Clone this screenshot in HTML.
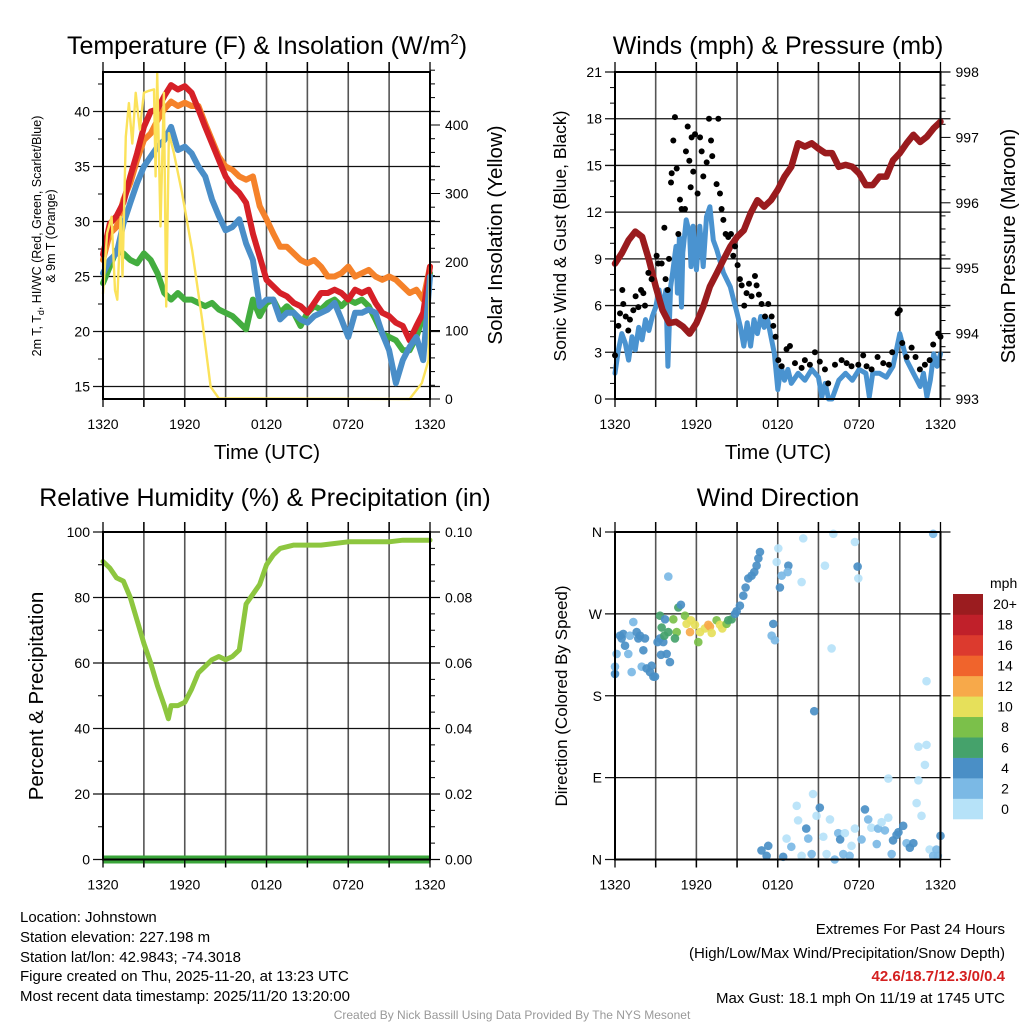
<!DOCTYPE html>
<html><head><meta charset="utf-8"><style>
body{margin:0;background:#fff;font-family:"Liberation Sans",Arial,sans-serif}
svg{display:block}
text{font-family:"Liberation Sans",Arial,sans-serif}
</style></head><body>
<svg id="s" width="1024" height="1024" viewBox="0 0 1024 1024" xmlns="http://www.w3.org/2000/svg">
<rect width="1024" height="1024" fill="#fff"/>
<text x="267" y="54" font-size="25" text-anchor="middle">Temperature (F) &amp; Insolation (W/m<tspan dy="-10" font-size="15">2</tspan><tspan dy="10">)</tspan></text>
<text x="778" y="54" font-size="25" text-anchor="middle">Winds (mph) &amp; Pressure (mb)</text>
<text x="265" y="506" font-size="25" text-anchor="middle">Relative Humidity (%) &amp; Precipitation (in)</text>
<text x="778" y="506" font-size="25" text-anchor="middle">Wind Direction</text>
<text transform="translate(41,236) rotate(-90)" font-size="12.5" text-anchor="middle">2m T, T<tspan dy="3" font-size="9">d</tspan><tspan dy="-3">, HI/WC (Red, Green, Scarlet/Blue)</tspan></text>
<text transform="translate(55,236) rotate(-90)" font-size="12.5" text-anchor="middle">&amp; 9m T (Orange)</text>
<text transform="translate(502,235) rotate(-90)" font-size="20.5" text-anchor="middle">Solar Insolation (Yellow)</text>
<text x="267" y="459" font-size="20.5" text-anchor="middle">Time (UTC)</text>
<text x="778" y="459" font-size="20.5" text-anchor="middle">Time (UTC)</text>
<text transform="translate(566,236) rotate(-90)" font-size="17.5" text-anchor="middle">Sonic Wind &amp; Gust (Blue, Black)</text>
<text transform="translate(1015,246) rotate(-90)" font-size="20" text-anchor="middle">Station Pressure (Maroon)</text>
<text transform="translate(43,696) rotate(-90)" font-size="20.5" text-anchor="middle">Percent &amp; Precipitation</text>
<text transform="translate(567,696) rotate(-90)" font-size="17" text-anchor="middle">Direction (Colored By Speed)</text>
<g font-size="15">
<text x="20" y="922">Location: Johnstown</text>
<text x="20" y="942">Station elevation: 227.198 m</text>
<text x="20" y="962">Station lat/lon: 42.9843; -74.3018</text>
<text x="20" y="981">Figure created on Thu, 2025-11-20, at 13:23 UTC</text>
<text x="20" y="1001">Most recent data timestamp: 2025/11/20 13:20:00</text>
</g>
<g font-size="15" text-anchor="end">
<text x="1005" y="934">Extremes For Past 24 Hours</text>
<text x="1005" y="958">(High/Low/Max Wind/Precipitation/Snow Depth)</text>
<text x="1005" y="981" fill="#d42020" font-weight="bold">42.6/18.7/12.3/0/0.4</text>
<text x="1005" y="1003">Max Gust: 18.1 mph On 11/19 at 1745 UTC</text>
</g>
<text x="512" y="1019" font-size="12" fill="#999" text-anchor="middle">Created By Nick Bassill Using Data Provided By The NYS Mesonet</text>
</svg>
<script>
const hrs=[0,0.5,1,1.5,2,2.5,3,3.5,4,4.5,5,5.5,6,6.5,7,7.5,8,8.5,9,9.5,10,10.5,11,11.5,12,12.5,13,13.5,14,14.5,15,15.5,16,16.5,17,17.5,18,18.5,19,19.5,20,20.5,21,21.5,22,22.5,23,23.5,24];
const tempRed=[27,29.8,30.5,31.7,34.1,36.2,38.6,40,40.2,41.4,42.4,42,42.3,41.7,40.2,38.6,37.1,35.6,34.1,33.2,32.6,31.7,28.9,26.8,24.7,24.1,23.5,23.2,22.6,22.3,21.7,22.6,23.5,23.5,23.8,23.5,22.9,23.8,23.5,23.8,22.6,21.7,21.4,20.8,20.5,19.2,20.5,21.7,25.9];
const tempOrange=[26.5,28.9,29.5,32,33.5,35.6,37.4,38,39.2,40.2,40.9,40.5,40.8,40.5,40.5,38.9,37.4,35.9,35,34.7,34.1,33.8,34.1,31.4,30.2,28.9,27.7,27.7,27.1,26.5,26.2,26.5,25.9,25,25,25.3,25.9,25,25.3,25.6,25,24.7,25,24.7,24.1,23.5,23.8,22.9,25.9];
const tempBlue=[25.3,26.5,27.1,29.8,31.7,33.5,35,35.9,36.8,37.4,38.6,36.5,36.8,36.2,35,34.1,32,30.5,29.2,29.5,30.2,28,26.5,22.3,22.9,22.9,21.1,21.7,21.7,21.1,20.8,21.4,21.7,22,22.6,21.1,19.5,21.7,21.7,22,21.7,19.8,18.3,15.3,17.4,18.6,19.5,17.4,25];
const dewGreen=[24.4,25.9,27.4,27.1,26.5,26.2,27.1,26.5,25.3,23.5,22.9,23.5,22.9,22.9,22.6,22.3,22.6,22,21.7,21.4,20.8,20.2,22.9,21.4,22.6,22.9,21.7,22.3,21.7,20.5,21.7,22.3,22,22.6,22.9,22.3,22.9,22.6,22.9,22.3,21.1,19.8,19.5,19.2,18.3,18.3,19.5,21.4,25.3];
const solarHrs=[0,0.3,0.63,0.88,1.05,1.3,1.43,1.67,1.9,2.15,2.4,2.7,3,3.37,3.74,3.86,3.98,4.22,4.47,4.64,4.84,5.2,5.8,6.55,7.28,7.9,8.5,22.5,23.4,23.9,24];
const solarVals=[154,242,266,159,145,266,179,383,432,373,447,393,447,450,452,325,476,252,447,135,388,359,301,217,115,18,1,0,23,57,193];
const windHrs=[0,0.25,0.5,0.75,1,1.25,1.5,1.75,2,2.25,2.5,2.75,3,3.25,3.5,3.75,3.9,4.1,4.25,4.5,4.6,4.75,4.9,5,5.25,5.5,5.6,5.75,6,6.25,6.5,6.75,7,7.25,7.5,8,8.5,9,9.25,9.5,9.75,10,10.25,10.5,10.75,11,11.25,11.5,11.75,12,12.25,12.5,12.75,13,13.5,14,14.5,15,15.25,15.5,15.75,16,16.5,17,17.5,18,18.5,18.75,19,19.5,20,20.5,21,21.5,22,22.5,22.75,23,23.25,23.5,23.75,24];
const windVals=[1.65,3.15,4.2,3.6,2.5,4,3.15,4.6,3.8,5.1,4.4,5.3,5.9,7,5.7,7,2.1,7.2,8.1,9.8,6.8,10.4,5.9,9.4,11.5,10.6,8.5,11.1,8.3,11.1,8.5,11.7,12.35,10.2,9.6,8.1,7.2,5.5,4.6,3.4,4.9,3.4,5.1,4.2,5.3,4.6,5.1,4,2.9,0.6,2.1,1.2,1.9,1,1.65,1.2,1.9,1.4,0.15,1,0,0,1.2,1.65,1.2,1.9,1.65,0.15,1.65,1.65,1.4,2.1,4.2,2.5,1.65,0.8,1.65,0.15,1.2,2.9,2.1,2.9];
const gustHrs=[0,0.25,0.37,0.54,0.61,0.79,0.98,1.1,1.35,1.52,1.72,1.92,2.09,2.21,2.46,2.7,3.07,3.19,3.44,3.64,3.73,3.88,3.98,4.13,4.18,4.3,4.42,4.55,4.67,4.79,4.91,5.16,5.23,5.36,5.48,5.58,5.65,5.77,5.9,6.09,6.27,6.39,6.51,6.76,6.93,7.08,7.17,7.49,7.62,7.74,7.86,7.99,8.16,8.35,8.55,8.72,8.85,9.04,9.21,9.34,9.53,9.7,9.88,10.07,10.32,10.44,10.61,10.81,11.06,11.3,11.55,11.67,11.84,12.04,12.29,12.65,12.9,13.27,13.76,14,14.37,14.74,15.1,15.48,15.72,16.22,16.71,17.08,17.44,17.94,18.3,18.55,18.92,19.36,19.78,20.2,20.44,20.84,21,21.18,21.5,21.87,22.16,22.48,22.85,23.2,23.46,23.83,24];
const gustVals=[2.8,4.7,5.5,7,6.1,5.3,4.4,5.1,5.7,6.6,5.9,7,6.8,6,8.1,7.7,9.2,8.7,8.7,11,7.7,7,9,13.9,14.5,16.6,18.1,14.8,10.6,12.8,12.2,12.2,15.9,17.5,15.3,13.6,16.8,14.6,17,13.2,16.8,15.9,14.3,15.2,18,16.6,15.6,13.8,18,13.2,12.2,11.5,10.6,10.4,10.6,9.2,9.8,8.6,7.7,7.3,6,6.8,7.4,6.6,7.9,7.3,6.7,6.1,5.3,6.1,5.3,4.7,4,2.5,2.1,3.2,3.4,2.3,2,2.5,2.2,3,2.4,1.9,1,2.2,2.5,2.3,2.1,2.2,2.8,2.1,1.9,2.7,2.3,2.2,3,5.5,5.7,3.6,2.7,3.3,2.7,1.9,2.2,2.5,3.5,4.2,4];
const pressVals=[995.07,995.23,995.43,995.56,995.48,995.13,994.72,994.36,994.16,994.18,994.11,994,994.16,994.41,994.72,994.92,995.13,995.33,995.48,995.58,995.84,996.04,995.94,996.04,996.2,996.4,996.55,996.91,996.86,996.91,996.83,996.76,996.76,996.55,996.58,996.55,996.45,996.27,996.27,996.4,996.4,996.65,996.76,996.91,997.04,996.93,997.01,997.14,997.24];
const rhHrs=[0,0.5,1,1.5,2,2.5,3,3.5,4,4.5,4.8,5,5.5,6,6.5,7,7.5,8,8.5,9,9.5,10,10.5,11,11.5,12,12.5,13,14,15,16,17,18,19,20,21,22,23,24];
const rhVals=[91,89,86,85,80,73,66,60,53,47,43,47,47,48,52,57,59,61,62,61,62,64,78,81,84,90,93,95,96,96,96,96.5,97,97,97,97,97.5,97.5,97.5];
const precipVals=[0,0];
const dirHrs=[0,0,0.12,0.37,0.49,0.61,0.74,0.98,1.1,1.35,1.6,1.72,1.84,2.09,2.21,1.23,1.97,2.33,2.58,2.7,2.83,2.95,3.14,3.32,3.56,3.39,3.81,4.05,3.93,3.32,3.44,3.64,3.69,3.93,4.3,4.55,4.67,4.86,4.42,5.16,5.28,5.53,5.6,5.9,6.14,6.27,6.63,6.88,7,7.13,7.49,7.74,7.91,8.23,8.35,8.6,8.85,8.97,9.21,9.46,9.63,9.83,10.07,10.27,10.44,10.57,10.69,11.67,11.55,11.79,11.92,12.04,12.29,12.16,12.78,12.73,13.76,13.88,15.48,16.1,17.69,17.89,17.94,15.97,14.69,22.97,23.46,10.8,11.18,11.3,12.4,12.65,13,13.4,13.5,13.76,14.1,14.25,14.5,14.6,14.86,15.1,15.36,15.6,15.85,16.2,16.46,16.6,16.83,16.95,17.3,17.44,17.69,18.18,18.43,18.67,18.9,19.3,19.4,19.66,19.9,20.15,20.4,20.5,20.76,20.9,21.25,21.5,21.74,22,22.24,22.37,22.6,22.37,22.97,22.85,23.2,23.46,23.7,24,23.8,20.15];
const dirVals=[204,212,226,246,243,248,235,226,246,261,250,243,246,230,243,206,212,210,206,213,201,201,239,243,239,225,226,217,311,268,255,246,264,250,264,250,277,280,243,268,259,250,263,258,239,250,254,258,256,249,263,258,254,259,263,264,270,273,279,290,299,309,312,316,323,331,338,259,246,241,327,342,312,299,323,316,305,353,323,358,349,322,309,232,163,196,358,10,4,15,3,23,14,59,43,4,34,23,6,72,48,57,25,6,44,0,29,22,6,29,4,15,34,22,55,44,35,17,34,41,32,46,6,21,27,30,37,18,13,18,62,87,48,124,126,104,11,4,11,26,4,89];
const dirSpeeds=[4,2,2,4,4,4,4,2,2,2,4,4,4,4,4,2,2,4,4,4,4,4,4,4,4,4,4,4,2,6,6,6,4,6,8,8,6,4,6,8,10,12,10,10,8,10,10,12,12,10,8,10,10,8,6,6,4,4,4,4,4,4,4,4,4,4,4,4,2,2,0,0,2,4,4,2,0,0,0,0,0,4,0,0,4,0,2,4,4,4,4,0,2,0,0,0,4,2,2,0,0,4,0,0,0,2,2,4,2,0,2,0,0,2,4,2,0,2,2,0,2,0,2,4,4,4,4,2,4,4,0,0,0,0,0,0,0,2,2,4,2,0];
const cbLabels=["0","2","4","6","8","10","12","14","16","18","20+"];
const cbColors=["#b6e2f8","#7bb9e5","#4a8fc6","#45a26b","#7bc04a","#e6e05a","#f7a94a","#f0642c","#dc3a2e","#c0202a","#9b1c1f"];

const NS="http://www.w3.org/2000/svg";
const svg=document.getElementById('s');
function mk(tag,attrs,parent){const e=document.createElementNS(NS,tag);for(const k in attrs)e.setAttribute(k,attrs[k]);(parent||svg).appendChild(e);return e;}
function lin(d0,d1,r0,r1){return v=>r0+(v-d0)*(r1-r0)/(d1-d0);}
const P1={x0:103,x1:430,y0:72,y1:399},P2={x0:615,x1:940.5,y0:72,y1:399},P3={x0:103,x1:430,y0:532,y1:859.5},P4={x0:615,x1:940.5,y0:532,y1:859.5};
function frame(P,name){
  const g=mk('g',{});
  
  
  for(let h=3;h<24;h+=3){const x=P.x0+(P.x1-P.x0)*h/24;
    const l=mk('line',{x1:x,x2:x,y1:P.y0-10,y2:P.y1+8,stroke:'#555','stroke-width':1.6},g);
    
    }
  const labs=["1320","1920","0120","0720","1320"];
  labs.forEach((t,i)=>{const x=P.x0+(P.x1-P.x0)*i/4;
    const tx=mk('text',{x:x,y:P.y1+30,'font-size':14,'text-anchor':'middle'});tx.textContent=t;
    
    });
  return g;
}
function box(P,name){const r=mk('rect',{x:P.x0,y:P.y0,width:P.x1-P.x0,height:P.y1-P.y0,fill:'none',stroke:'#000','stroke-width':2});
  
  
  for(let h=0;h<=24;h+=3){const x=P.x0+(P.x1-P.x0)*h/24;mk('line',{x1:x,x2:x,y1:P.y0-10,y2:P.y0,stroke:'#000','stroke-width':1.3});mk('line',{x1:x,x2:x,y1:P.y1,y2:P.y1+8,stroke:'#000','stroke-width':1.3});}
}
function hgrid(P,ys,labels,side,name){ys.forEach((y,i)=>{
  const l=mk('line',{x1:P.x0-10,x2:P.x1+10,y1:y,y2:y,stroke:'#111','stroke-width':1.3});
  
  
  if(labels){const t=mk('text',{x:side==='l'?P.x0-13:P.x1+13,y:y+5,'font-size':14,'text-anchor':side==='l'?'end':'start'});t.textContent=labels[i];
  
  }});}
function ticks(P,ys,side,len){ys.forEach(y=>{const x=side==='l'?P.x0:P.x1;mk('line',{x1:x,x2:side==='l'?x-len:x+len,y1:y,y2:y,stroke:'#000','stroke-width':1});});}
function path(xs,ys,xf,yf,attrs,name){let d='';xs.forEach((h,i)=>{d+=(i?'L':'M')+xf(h).toFixed(1)+','+yf(ys[i]).toFixed(1);});
  const p=mk('path',Object.assign({d:d,fill:'none','stroke-linejoin':'round','stroke-linecap':'round'},attrs));
  
  return p;}

// Panel 1
frame(P1,'temp');
const x1=lin(0,24,P1.x0,P1.x1), yT=lin(15,40,386.5,111.5), yS=lin(0,400,399,125);
hgrid(P1,[40,35,30,25,20,15].map(yT),["40","35","30","25","20","15"],'l','temp');
ticks(P1,[42.5,37.5,32.5,27.5,22.5,17.5].map(yT),'l',5);
[0,100,200,300,400].forEach(v=>{const t=mk('text',{x:P1.x1+15,y:yS(v)+5,'font-size':14});t.textContent=v;
  
  });
for(let v=0;v<=480;v+=20)mk('line',{x1:P1.x1,x2:P1.x1+(v%100?5:10),y1:yS(v),y2:yS(v),stroke:'#000','stroke-width':1});
path(hrs,dewGreen,x1,yT,{stroke:'#43ad3f','stroke-width':6},'dewpoint-line');
path(hrs,tempOrange,x1,yT,{stroke:'#f5822a','stroke-width':6},'temp-9m-line');
path(hrs,tempRed,x1,yT,{stroke:'#d62027','stroke-width':6},'temp-2m-line');
path(hrs,tempBlue,x1,yT,{stroke:'#4a8ec8','stroke-width':6},'windchill-line');
path(solarHrs,solarVals,x1,yS,{stroke:'#fbe25a','stroke-width':2.4},'solar-line');
box(P1,'temp');

// Panel 2
frame(P2,'wind');
const x2=lin(0,24,P2.x0,P2.x1), yW=lin(0,21,399,72), yP=lin(993,998,399,72);
hgrid(P2,[0,3,6,9,12,15,18,21].map(yW),["0","3","6","9","12","15","18","21"],'l','wind');
for(let v=1;v<21;v++)if(v%3)mk('line',{x1:P2.x0,x2:P2.x0-5,y1:yW(v),y2:yW(v),stroke:'#000'});
[993,994,995,996,997,998].forEach(v=>{const t=mk('text',{x:P2.x1+15,y:yP(v)+5,'font-size':14});t.textContent=v;
  
  });
for(let v=993;v<=998.001;v+=0.2)mk('line',{x1:P2.x1,x2:P2.x1+(Math.abs(v-Math.round(v))<0.01?10:5),y1:yP(v),y2:yP(v),stroke:'#000'});
path(windHrs,windVals,x2,yW,{stroke:'#4a93d0','stroke-width':5},'wind-speed-line');
path(hrs,pressVals,x2,yP,{stroke:'#9a1b1e','stroke-width':6.5},'pressure-line');
gustHrs.forEach((h,i)=>{const c=mk('circle',{cx:x2(h),cy:yW(gustVals[i]),r:3,fill:'#000'});
  
  });
box(P2,'wind');

// Panel 3
frame(P3,'rh');
const x3=lin(0,24,P3.x0,P3.x1), yR=lin(0,100,859.5,532), yPr=lin(0,0.1,859.5,532);
hgrid(P3,[0,20,40,60,80,100].map(yR),["0","20","40","60","80","100"],'l','rh');
ticks(P3,[10,30,50,70,90].map(yR),'l',5);
["0.00","0.02","0.04","0.06","0.08","0.10"].forEach((s,i)=>{const t=mk('text',{x:P3.x1+15,y:yPr(i*0.02)+5,'font-size':14});t.textContent=s;
  
  });
for(let i=0;i<=20;i++)mk('line',{x1:P3.x1,x2:P3.x1+(i%4?5:10),y1:yPr(i*0.005),y2:yPr(i*0.005),stroke:'#000'});
path(rhHrs,rhVals,x3,yR,{stroke:'#8dc63f','stroke-width':5},'rh-line');
path([0,24],precipVals,x3,yPr,{stroke:'#3aa53a','stroke-width':8,'stroke-linecap':'butt'},'precip-line');
box(P3,'rh');

// Panel 4
frame(P4,'dir');
const x4=lin(0,24,P4.x0,P4.x1), yD=lin(0,360,859.5,532);
hgrid(P4,[0,90,180,270,360].map(yD),["N","E","S","W","N"],'l','dir');
function speedColor(s){return cbColors[Math.min(10,Math.floor(s/2))];}
dirHrs.forEach((h,i)=>{const c=mk('circle',{cx:x4(h),cy:yD(dirVals[i]),r:4.3,fill:speedColor(dirSpeeds[i]),'fill-opacity':0.92});
  
  });
box(P4,'dir');
// colorbar
const cbT=mk('text',{x:990,y:588,'font-size':14});cbT.textContent='mph';


const cbH=225/11;
cbColors.forEach((c,i)=>{const y=819-(i+1)*cbH;
  const r=mk('rect',{x:953,y:y,width:30,height:cbH+0.3,fill:c});
  
  
  const t=mk('text',{x:1005,y:y+cbH/2+5,'font-size':14,'text-anchor':'middle'});t.textContent=cbLabels[i];
  
  });
</script>
</body></html>
